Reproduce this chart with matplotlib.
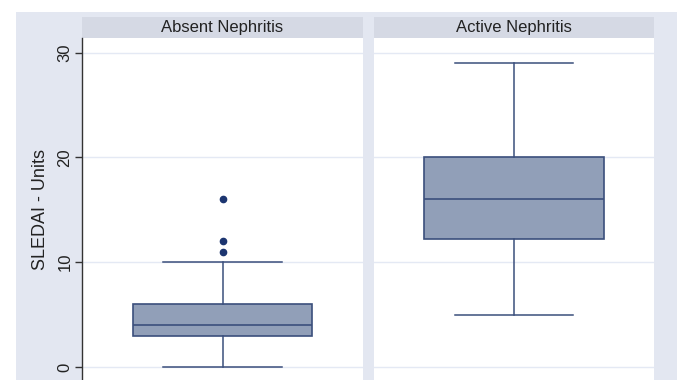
import matplotlib
matplotlib.use("Agg")
import matplotlib.pyplot as plt
from matplotlib.patches import Rectangle

plt.rcParams['font.family'] = ['Liberation Sans', 'DejaVu Sans']

# Box-plot summaries of SLEDAI score by nephritis status
groups = ["Absent Nephritis", "Active Nephritis"]
whisker_low = [0, 5]
q1 = [3, 12.2]
median = [4, 16]
q3 = [6, 20]
whisker_high = [10, 29]
outliers = [[11, 12, 16], []]

y_ticks = [0, 10, 20, 30]
y_label = "SLEDAI - Units"

W, H = 686, 380
fig = plt.figure(figsize=(W / 100, H / 100), dpi=100)
fig.patch.set_facecolor("white")

# outer graph region
fig.patches.append(Rectangle((16 / W, 0), (677 - 16) / W, (H - 12) / H,
                             transform=fig.transFigure, facecolor="#e3e7f1",
                             edgecolor="none", zorder=-10))

box_face = "#919fb8"
box_edge = "#3b4f7c"
dot_color = "#1c3570"
grid_color = "#e4e9f4"
strip_color = "#d5d9e4"

panels = [(82, 363), (374, 654)]
ylim = (-1.24, 31.4)
plot_top = 38
strip_top = 17

for i, (x0, x1) in enumerate(panels):
    ax = fig.add_axes([x0 / W, 0, (x1 - x0) / W, (H - plot_top) / H])
    ax.set_zorder(5)
    ax.set_facecolor("white")
    ax.set_ylim(*ylim)
    stats = [dict(med=median[i], q1=q1[i], q3=q3[i], whislo=whisker_low[i],
                  whishi=whisker_high[i], fliers=outliers[i], label="")]
    ax.bxp(stats, positions=[1], widths=0.64, patch_artist=True,
           boxprops=dict(facecolor=box_face, edgecolor=box_edge, linewidth=1.2),
           medianprops=dict(color=box_edge, linewidth=1.2),
           whiskerprops=dict(color=box_edge, linewidth=1.1),
           capprops=dict(color=box_edge, linewidth=1.1),
           capwidths=0.42,
           flierprops=dict(marker="o", markersize=4.5, markerfacecolor=dot_color,
                           markeredgecolor=dot_color, linestyle="none"))
    ax.set_xlim(0.5, 1.5)
    ax.set_yticks(y_ticks)
    ax.grid(axis="y", color=grid_color, linewidth=1.0)
    ax.set_axisbelow(True)
    ax.set_xticks([])
    for s in ["top", "right", "bottom"]:
        ax.spines[s].set_visible(False)
    if i == 0:
        ax.spines["left"].set_color("#333333")
        ax.spines["left"].set_linewidth(1.0)
        ax.tick_params(axis="y", length=5, width=1.0, color="#333333",
                       labelsize=12, pad=2, labelcolor="#222222")
        for lab in ax.get_yticklabels():
            lab.set_rotation(90)
            lab.set_va("center")
        ax.set_ylabel(y_label, fontsize=13, color="#222222", labelpad=6)
    else:
        ax.spines["left"].set_visible(False)
        ax.tick_params(axis="y", length=0, labelleft=False)

    # strip header
    fig.patches.append(Rectangle((x0 / W, (H - plot_top) / H),
                                 (x1 - x0) / W, (plot_top - strip_top) / H,
                                 transform=fig.transFigure, facecolor=strip_color,
                                 edgecolor="none", zorder=1))
    fig.text((x0 + x1) / 2 / W, (H - (plot_top + strip_top) / 2) / H, groups[i],
             ha="center", va="center", fontsize=12, color="#222222")

fig.savefig("out.png", dpi=100)
